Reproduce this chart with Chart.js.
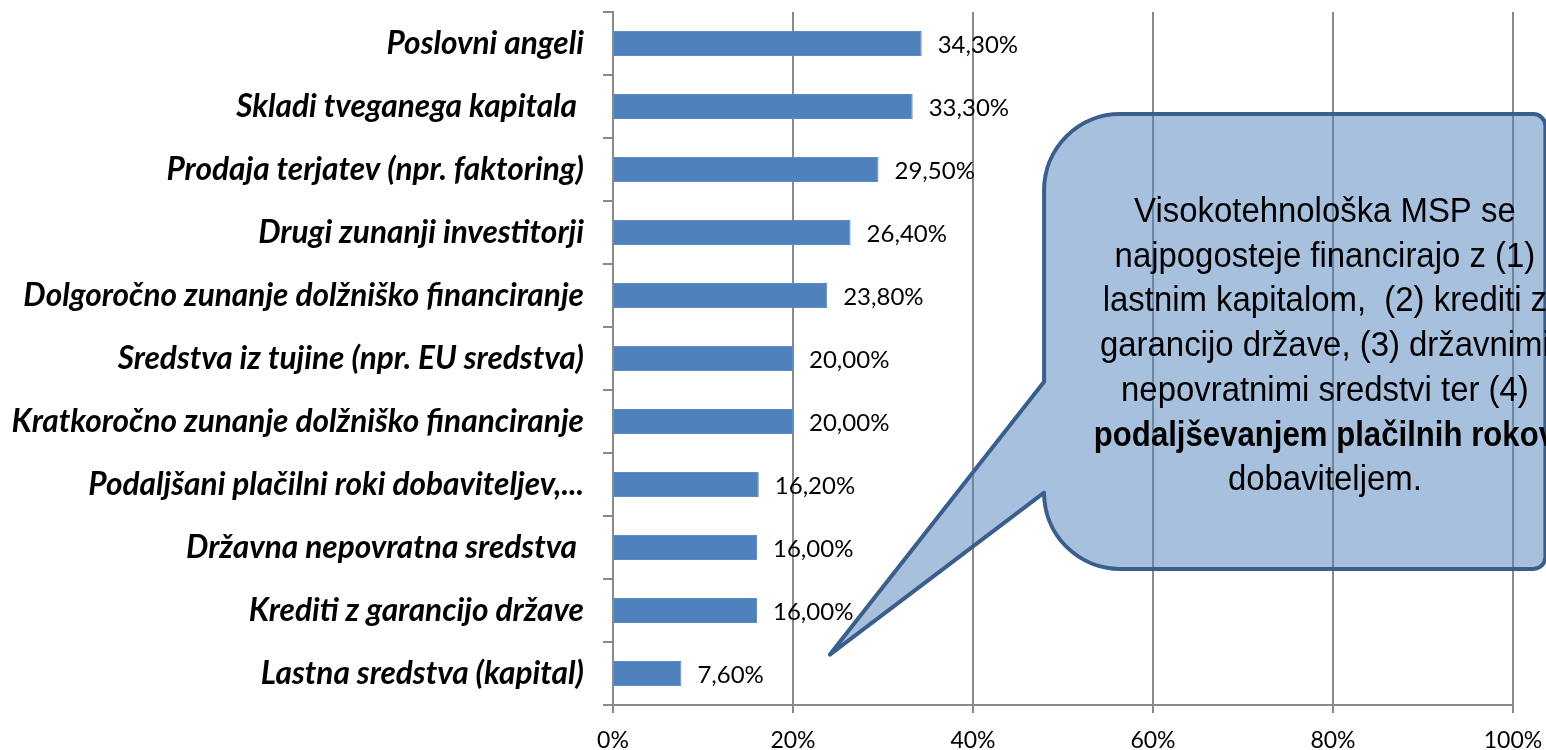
<!DOCTYPE html>
<html><head><meta charset="utf-8">
<script src="https://cdn.jsdelivr.net/npm/chart.js@4/dist/chart.umd.min.js"></script>
<style>html,body{margin:0;padding:0;background:#fff;overflow:hidden}#wrap{width:1546px;height:750px;position:relative}</style>
</head><body><div id="wrap"><canvas id="c" width="1546" height="750"></canvas></div>
<script>
const categories = [
  "Poslovni angeli",
  "Skladi tveganega kapitala ",
  "Prodaja terjatev (npr. faktoring)",
  "Drugi zunanji investitorji",
  "Dolgoročno zunanje dolžniško financiranje",
  "Sredstva iz tujine (npr. EU sredstva)",
  "Kratkoročno zunanje dolžniško financiranje",
  "Podaljšani plačilni roki dobaviteljev,...",
  "Državna nepovratna sredstva ",
  "Krediti z garancijo države",
  "Lastna sredstva (kapital)"
];
const values = [34.3, 33.3, 29.5, 26.4, 23.8, 20.0, 20.0, 16.2, 16.0, 16.0, 7.6];
const xTicks = [0, 20, 40, 60, 80, 100];
const calloutLines = [
  {text: "Visokotehnološka MSP se", bold: false},
  {text: "najpogosteje financirajo z (1)", bold: false},
  {text: "lastnim kapitalom,  (2) krediti z", bold: false},
  {text: "garancijo države, (3) državnimi", bold: false},
  {text: "nepovratnimi sredstvi ter (4)", bold: false},
  {text: "podaljševanjem plačilnih rokov", bold: true},
  {text: "dobaviteljem.", bold: false}
];

const GRID = '#8a8a8a';
const mctx = document.createElement('canvas').getContext('2d');
mctx.font = 'italic bold 100px Lato';
const longest = Math.max(...categories.map(c => mctx.measureText(c).width));
const catSize = Math.round(100 * 572 / longest * 10) / 10;

const valueLabels = {
  id: 'valueLabels',
  afterDatasetsDraw(chart) {
    const ctx = chart.ctx;
    const meta = chart.getDatasetMeta(0);
    ctx.save();
    ctx.font = '24px Lato';
    ctx.fillStyle = '#000';
    ctx.textBaseline = 'middle';
    ctx.textAlign = 'left';
    meta.data.forEach((bar, i) => {
      ctx.fillText(values[i].toFixed(2).replace('.', ',') + '%', bar.x + 16, bar.y + 2);
    });
    ctx.restore();
  }
};

const callout = {
  id: 'callout',
  afterDraw(chart) {
    const x = chart.scales.x, y = chart.scales.y, ctx = chart.ctx;
    const L = x.getPixelForValue(47.9), R = x.getPixelForValue(103.6);
    const T = y.getPixelForValue(1.12), B = y.getPixelForValue(8.34);
    const J1 = y.getPixelForValue(5.37), J2 = y.getPixelForValue(7.13);
    const tx = x.getPixelForValue(24.1), ty = y.getPixelForValue(9.70);
    const r = 76, r2 = 12;
    ctx.save();
    ctx.beginPath();
    ctx.moveTo(L + r, T);
    ctx.lineTo(R - r2, T);
    ctx.arcTo(R, T, R, T + r2, r2);
    ctx.lineTo(R, B - r2);
    ctx.arcTo(R, B, R - r2, B, r2);
    ctx.lineTo(L + r, B);
    ctx.arcTo(L, B, L, B - r, r);
    ctx.lineTo(L, J2);
    ctx.lineTo(tx, ty);
    ctx.lineTo(L, J1);
    ctx.lineTo(L, T + r);
    ctx.arcTo(L, T, L + r, T, r);
    ctx.closePath();
    ctx.fillStyle = 'rgba(79,129,189,0.5)';
    ctx.fill();
    ctx.lineWidth = 4;
    ctx.lineJoin = 'round';
    ctx.strokeStyle = '#3b5f8c';
    ctx.stroke();
    const cx = x.getPixelForValue(79.1);
    ctx.fillStyle = '#000';
    ctx.textAlign = 'center';
    ctx.textBaseline = 'alphabetic';
    const base = T + 108, lh = 44.7;
    calloutLines.forEach((ln, i) => {
      ctx.save();
      ctx.translate(cx, base + i * lh);
      ctx.scale(ln.bold ? 0.89 : 0.94, 1);
      ctx.font = (ln.bold ? 'bold ' : '') + '35px "Liberation Sans Narrow", "Liberation Sans", Arial, sans-serif';
      ctx.fillText(ln.text, 0, 0);
      ctx.restore();
    });
    ctx.restore();
  }
};

new Chart(document.getElementById('c'), {
  type: 'bar',
  data: {
    labels: categories,
    datasets: [{
      data: values,
      backgroundColor: '#4f81bd',
      borderColor: '#5b8cc6',
      borderWidth: 1,
      barPercentage: 0.4,
      categoryPercentage: 1.0
    }]
  },
  options: {
    indexAxis: 'y',
    responsive: false,
    animation: false,
    layout: {padding: {left: 0, right: 33, top: 12, bottom: 0}},
    plugins: {legend: {display: false}, tooltip: {enabled: false}},
    scales: {
      x: {
        min: 0, max: 100,
        afterBuildTicks(s) { s.ticks = xTicks.map(v => ({value: v})); },
        afterFit(s) { s.height = 45; s.paddingLeft = 0; s.paddingRight = 0; },
        grid: {color: GRID, lineWidth: 2, tickLength: 8, drawTicks: true},
        border: {display: true, color: GRID, width: 2},
        ticks: {
          callback: v => v + '%',
          font: {family: 'Lato', size: 23},
          color: '#000',
          padding: 14,
          maxRotation: 0
        }
      },
      y: {
        afterFit(s) { s.width = 613; s.paddingTop = 0; s.paddingBottom = 0; },
        grid: {drawOnChartArea: false, drawTicks: true, tickLength: 10, color: GRID, lineWidth: 2, offset: true},
        border: {display: true, color: GRID, width: 2},
        ticks: {
          font: {family: 'Lato', size: catSize, style: 'italic', weight: 'bold'},
          color: '#000',
          padding: 19,
          autoSkip: false
        }
      }
    }
  },
  plugins: [valueLabels, callout]
});
</script>
</body></html>
